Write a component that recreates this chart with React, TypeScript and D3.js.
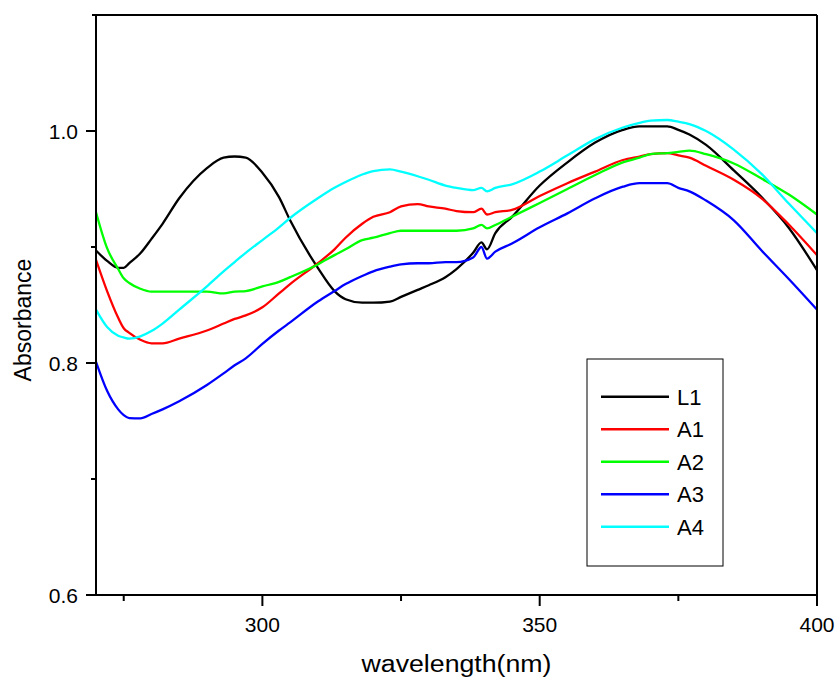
import React from "react";
import * as d3 from "d3";

const wavelengths = [270,272,274,275,276,278,280,282,285,290,293,295,297,300,303,305,310,313,315,318,320,323,325,328,330,333,335,338,339.5,340.5,342,345,350,355,360,365,368,370,373,375,377,380,385,390,395,400];

const L1 = [0.897,0.888,0.882,0.882,0.886,0.8946,0.907,0.920,0.942,0.968,0.977,0.978,0.977,0.964,0.943,0.923,0.882,0.862,0.855,0.852,0.852,0.853,0.857,0.863,0.867,0.874,0.881,0.895,0.904,0.898,0.912,0.926,0.953,0.973,0.990,1.001,1.004,1.004,1.004,1.001,0.997,0.988,0.966,0.943,0.916,0.880];
const A1 = [0.889,0.862,0.839,0.830,0.826,0.820,0.817,0.817,0.821,0.828,0.834,0.838,0.841,0.848,0.860,0.868,0.886,0.898,0.908,0.920,0.926,0.930,0.935,0.937,0.935,0.933,0.931,0.930,0.933,0.928,0.930,0.932,0.944,0.955,0.965,0.975,0.978,0.980,0.981,0.979,0.977,0.970,0.958,0.942,0.919,0.893];
const A2 = [0.930,0.899,0.881,0.873,0.869,0.864,0.8615,0.8615,0.8615,0.8615,0.860,0.8615,0.862,0.866,0.870,0.874,0.885,0.893,0.898,0.906,0.908,0.912,0.914,0.914,0.914,0.914,0.914,0.916,0.919,0.916,0.919,0.926,0.938,0.950,0.962,0.973,0.977,0.980,0.981,0.982,0.983,0.980,0.972,0.959,0.945,0.928];
const A3 = [0.801,0.776,0.760,0.755,0.7525,0.7523,0.756,0.760,0.767,0.781,0.791,0.798,0.804,0.8165,0.828,0.835,0.853,0.862,0.868,0.875,0.879,0.883,0.885,0.886,0.886,0.887,0.887,0.891,0.900,0.890,0.896,0.903,0.917,0.929,0.942,0.952,0.955,0.955,0.955,0.951,0.948,0.940,0.923,0.897,0.872,0.846];
const A4 = [0.846,0.831,0.8235,0.822,0.821,0.823,0.8275,0.834,0.846,0.866,0.879,0.887,0.895,0.906,0.917,0.925,0.942,0.951,0.956,0.9625,0.9655,0.967,0.965,0.961,0.958,0.953,0.951,0.949,0.951,0.948,0.951,0.954,0.965,0.979,0.993,1.003,1.007,1.009,1.0095,1.008,1.006,1.000,0.984,0.963,0.937,0.912];

const seriesNames = ["L1", "A1", "A2", "A3", "A4"];
const seriesValues = [L1, A1, A2, A3, A4];
const seriesColors = ["#000000", "#ff0000", "#00ff00", "#0000ff", "#00ffff"];

const xMajorTicks = [300, 350, 400];
const xMinorTicks = [275, 325, 375];
const yMajorTicks = [0.6, 0.8, 1.0];
const yMinorTicks = [0.7, 0.9];

const FONT = "'Liberation Sans', Arial, Helvetica, sans-serif";

export default function App() {
  const left = 96, right = 817, top = 15, bottom = 595;
  const x = d3.scaleLinear().domain([270, 400]).range([left, right]);
  const y = d3.scaleLinear().domain([0.6, 1.1]).range([bottom, top]);
  const line = d3
    .line<number>()
    .x((_, i) => x(wavelengths[i]))
    .y((d) => y(d))
    .curve(d3.curveMonotoneX);

  const legX = 587, legY = 359, legW = 136, legH = 207;
  const rowY0 = 396.7, rowStep = 32.5;

  return (
    <svg
      width={836}
      height={677}
      style={{ position: "absolute", left: 0, top: 0, display: "block", background: "#fff" }}
      fontFamily={FONT}
    >
      <rect x={0} y={0} width={836} height={677} fill="#fff" />
      <defs>
        <clipPath id="plotclip">
          <rect x={left} y={top} width={right - left} height={bottom - top} />
        </clipPath>
      </defs>

      <g clipPath="url(#plotclip)">
        {seriesValues.map((vals, k) => (
          <path
            key={seriesNames[k]}
            d={line(vals) || ""}
            fill="none"
            stroke={seriesColors[k]}
            strokeWidth={2.3}
            strokeLinejoin="round"
          />
        ))}
      </g>

      {/* frame */}
      <line x1={92} x2={right} y1={top} y2={top} stroke="#000" strokeWidth={2} />
      <line x1={right} x2={right} y1={top} y2={bottom} stroke="#000" strokeWidth={2} />
      <line x1={left} x2={left} y1={top} y2={bottom + 1} stroke="#000" strokeWidth={2} />
      <line x1={left - 1} x2={right + 1} y1={bottom} y2={bottom} stroke="#000" strokeWidth={2} />

      {/* y ticks */}
      {yMajorTicks.map((t) => (
        <g key={"ym" + t}>
          <line x1={left - 10} x2={left} y1={y(t)} y2={y(t)} stroke="#000" strokeWidth={2} />
          <text x={78} y={y(t) + 7.5} textAnchor="end" fontSize={21} fill="#000">
            {d3.format(".1f")(t)}
          </text>
        </g>
      ))}
      {yMinorTicks.map((t) => (
        <line key={"yn" + t} x1={left - 5} x2={left} y1={y(t)} y2={y(t)} stroke="#000" strokeWidth={2} />
      ))}

      {/* x ticks */}
      {xMajorTicks.map((t) => (
        <g key={"xm" + t}>
          <line x1={x(t)} x2={x(t)} y1={bottom} y2={bottom + 11} stroke="#000" strokeWidth={2} />
          <text x={x(t)} y={632} textAnchor="middle" fontSize={21} fill="#000">
            {t}
          </text>
        </g>
      ))}
      {xMinorTicks.map((t) => (
        <line key={"xn" + t} x1={x(t)} x2={x(t)} y1={bottom} y2={bottom + 6} stroke="#000" strokeWidth={2} />
      ))}

      {/* axis titles */}
      <text
        transform={`translate(31, 320) rotate(-90)`}
        textAnchor="middle"
        fontSize={23}
        fill="#000"
      >
        Absorbance
      </text>
      <text
        x={(left + right) / 2}
        y={672}
        textAnchor="middle"
        fontSize={23}
        textLength={190}
        lengthAdjust="spacingAndGlyphs"
        fill="#000"
      >
        wavelength(nm)
      </text>

      {/* legend */}
      <rect x={legX} y={legY} width={legW} height={legH} fill="#fff" stroke="#000" strokeWidth={1} />
      {seriesNames.map((name, k) => (
        <g key={"leg" + name}>
          <line
            x1={601}
            x2={669}
            y1={rowY0 + k * rowStep}
            y2={rowY0 + k * rowStep}
            stroke={seriesColors[k]}
            strokeWidth={2.5}
          />
          <text x={677} y={rowY0 + k * rowStep + 8} fontSize={22} fill="#000">
            {name}
          </text>
        </g>
      ))}
    </svg>
  );
}
